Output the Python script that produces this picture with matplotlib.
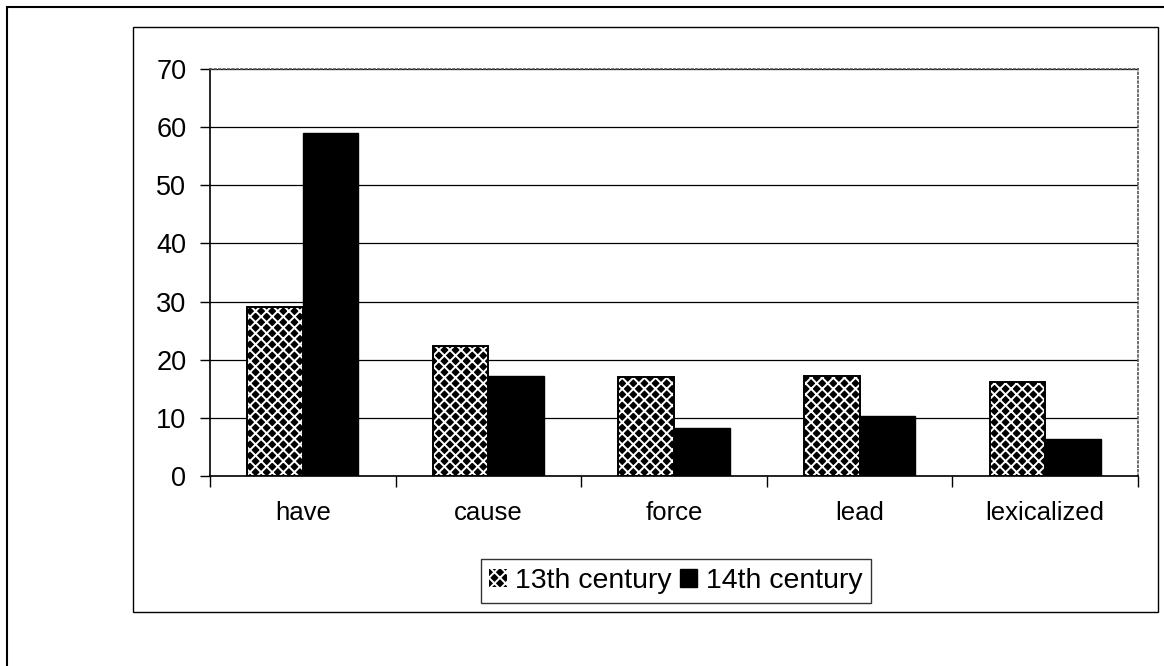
import numpy as np
import matplotlib.pyplot as plt
from matplotlib.patches import Rectangle, Patch

plt.rcParams['font.family'] = ['Liberation Sans', 'DejaVu Sans']
plt.rcParams['hatch.linewidth'] = 1.4

categories = ['have', 'cause', 'force', 'lead', 'lexicalized']
c13 = [29, 22.4, 17.1, 17.2, 16.2]
c14 = [59, 17.2, 8.3, 10.4, 6.3]
series = ['13th century', '14th century']
yticks = [0, 10, 20, 30, 40, 50, 60, 70]

fig = plt.figure(figsize=(11.64, 6.66), dpi=100)

# outer frame (left + top lines) and chart area box
fig.add_artist(Rectangle((7 / 1164, -0.1), 1.2, 1 - 7 / 666 + 0.1, transform=fig.transFigure,
                         fill=False, edgecolor='black', linewidth=1.5))
fig.add_artist(Rectangle((133 / 1164, 1 - 612 / 666), (1158 - 133) / 1164, (612 - 27) / 666,
                         transform=fig.transFigure, fill=False, edgecolor='black', linewidth=1.0))

ax = fig.add_axes([210 / 1164, 1 - 476 / 666, (1138 - 210) / 1164, (476 - 69) / 666])

x = np.arange(len(categories))
w = 0.3
ax.bar(x - w / 2, c13, w, facecolor='black', edgecolor='white', hatch='xxx', linewidth=0, zorder=3)
ax.bar(x - w / 2, c13, w, fill=False, edgecolor='black', linewidth=1.4, zorder=4)
ax.bar(x + w / 2, c14, w, color='black', edgecolor='black', linewidth=1.0, zorder=3)

ax.set_xlim(-0.5, len(categories) - 0.5)
ax.set_ylim(0, 70)
ax.set_yticks(yticks)
ax.set_xticks(x)
ax.set_xticklabels(categories)
ax.set_xticks(np.arange(len(categories) + 1) - 0.5, minor=True)
ax.tick_params(axis='x', which='major', length=0, pad=18, labelsize=18.5)
ax.tick_params(axis='x', which='minor', length=8, direction='out', width=1)
ax.tick_params(axis='y', length=7, direction='out', width=1, labelsize=19.5, pad=10)

ax.yaxis.grid(True, color='black', linewidth=0.9)
ax.set_axisbelow(True)
for s in ['top', 'right']:
    ax.spines[s].set_linestyle(':')
    ax.spines[s].set_color('#555555')
    ax.spines[s].set_linewidth(1.2)
ax.spines['left'].set_linewidth(1.2)
ax.spines['bottom'].set_linewidth(1.2)

handles = [Patch(facecolor='black', edgecolor='white', hatch='xxx', linewidth=0),
           Patch(facecolor='black', edgecolor='black')]
leg = fig.legend(handles, series, loc='center', bbox_to_anchor=(676 / 1164, 1 - 581 / 666),
                 ncol=2, fontsize=20.5, frameon=True, fancybox=False, edgecolor='black',
                 handlelength=0.6, handleheight=0.6, handletextpad=0.3, columnspacing=0.3,
                 borderpad=0.3, borderaxespad=0)
leg.get_frame().set_linewidth(1.0)

fig.savefig('out.png', dpi=100)
